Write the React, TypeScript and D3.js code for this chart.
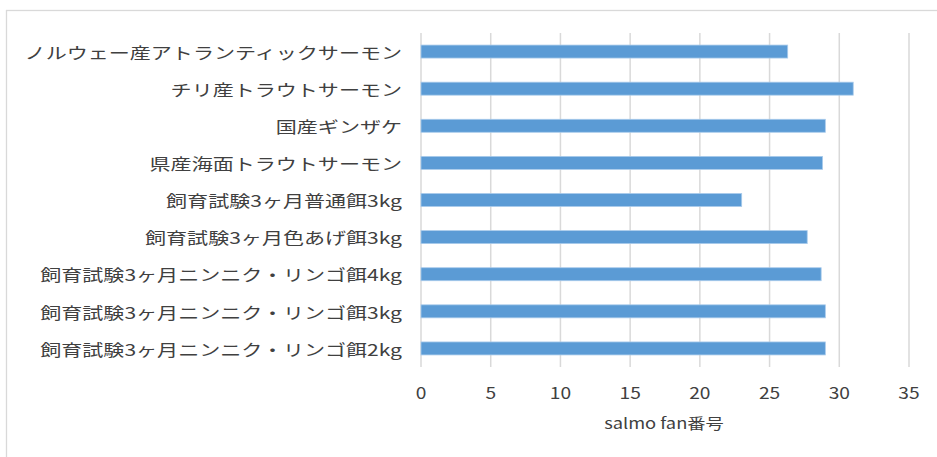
import React from "react";
import * as d3 from "d3";

const categories = [
  "ノルウェー産アトランティックサーモン",
  "チリ産トラウトサーモン",
  "国産ギンザケ",
  "県産海面トラウトサーモン",
  "飼育試験3ヶ月普通餌3kg",
  "飼育試験3ヶ月色あげ餌3kg",
  "飼育試験3ヶ月ニンニク・リンゴ餌4kg",
  "飼育試験3ヶ月ニンニク・リンゴ餌3kg",
  "飼育試験3ヶ月ニンニク・リンゴ餌2kg",
];
const values = [26.3, 31, 29, 28.8, 23, 27.7, 28.7, 29, 29];
const xTicks = [0, 5, 10, 15, 20, 25, 30, 35];
const axisTitle = "salmo fan番号";

const W = 937;
const H = 457;
const plot = { left: 421, right: 909, top: 33, bottom: 367 };
const FONT = "'Noto Sans CJK JP', 'Noto Sans', sans-serif";
const TEXT = "#404040";
const GRID = "#d9d9d9";
const BAR = "#5b9bd5";
const SX = 1.315;

export default function App() {
  const x = d3.scaleLinear().domain([0, 35]).range([plot.left, plot.right]);
  const y = d3
    .scaleBand<string>()
    .domain(categories)
    .range([plot.top, plot.bottom])
    .paddingInner(0.65)
    .paddingOuter(0.325);

  return (
    <div style={{ position: "fixed", left: 0, top: 0, width: W, height: H, background: "#fff" }}>
      <svg width={W} height={H} style={{ display: "block" }}>
        <rect x={0} y={0} width={W} height={H} fill="#fff" />
        {/* chart frame */}
        <rect x={6.5} y={10.5} width={W + 10} height={H + 10} fill="none" stroke={GRID} strokeWidth={1.3} />
        {/* vertical gridlines */}
        {xTicks.map((t) => (
          <line
            key={"g" + t}
            x1={x(t)}
            x2={x(t)}
            y1={plot.top}
            y2={plot.bottom}
            stroke={GRID}
            strokeWidth={1.5}
          />
        ))}
        {/* bars */}
        {categories.map((c, i) => (
          <rect
            key={"b" + i}
            x={x(0)}
            y={y(c)!}
            width={x(values[i]) - x(0)}
            height={y.bandwidth()}
            fill={BAR}
            stroke="#a9cbeb"
            strokeWidth={0.8}
          />
        ))}
        {/* category labels */}
        {categories.map((c, i) => (
          <text
            key={"l" + i}
            transform={`translate(402, ${y(c)! + y.bandwidth() / 2}) scale(${SX}, 1)`}
            textAnchor="end"
            dominantBaseline="central"
            fontFamily={FONT}
            fontSize={16}
            fill={TEXT}
          >
            {c}
          </text>
        ))}
        {/* x tick labels */}
        {xTicks.map((t) => (
          <text
            key={"t" + t}
            transform={`translate(${x(t)}, 392) scale(1.2, 1)`}
            textAnchor="middle"
            dominantBaseline="central"
            fontFamily={FONT}
            fontSize={16}
            fill={TEXT}
          >
            {t}
          </text>
        ))}
        {/* axis title */}
        <text
          transform={`translate(${(plot.left + plot.right) / 2 - 1}, 423) scale(1.22, 1)`}
          textAnchor="middle"
          dominantBaseline="central"
          fontFamily={FONT}
          fontSize={15}
          fill={TEXT}
        >
          {axisTitle}
        </text>
      </svg>
    </div>
  );
}
